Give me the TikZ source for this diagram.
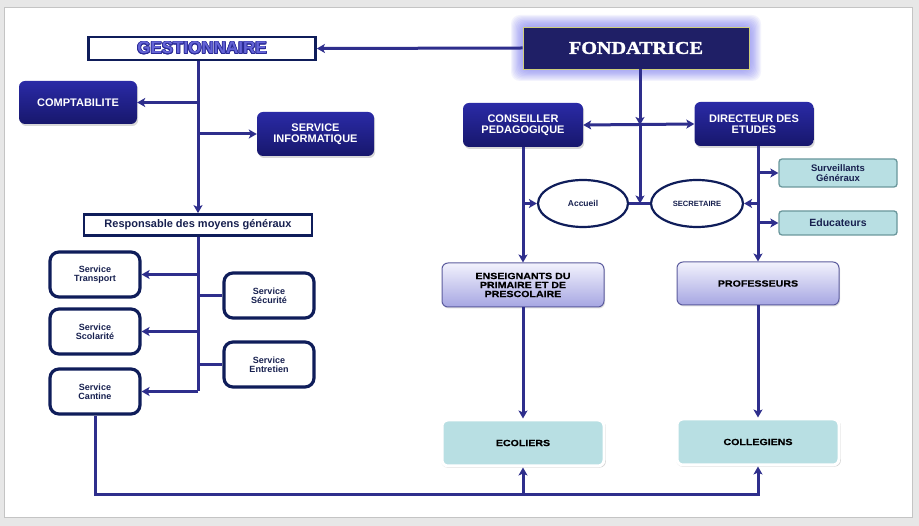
\documentclass[tikz,border=0pt]{standalone}
\usepackage{fontspec}
\setmainfont{Liberation Sans}
\newfontfamily\fondfont[FakeStretch=1.12,FakeBold=1.6]{Liberation Serif}
\newfontfamily\widefont[FakeStretch=1.18,FakeBold=0.5]{Liberation Sans}
\usepackage{contour}
\contourlength{0.7pt}
\usetikzlibrary{arrows.meta,shadows,shapes.geometric}
\definecolor{bggray}{HTML}{E7E7E7}
\definecolor{panelline}{HTML}{C4C4C4}
\definecolor{ln}{HTML}{2E2E8C}
\definecolor{navyT}{HTML}{2A2AA6}
\definecolor{navyB}{HTML}{17176C}
\definecolor{bordnavy}{HTML}{0F1D5A}
\definecolor{txtnavy}{HTML}{17204F}
\definecolor{fondfill}{HTML}{1F1F66}
\definecolor{fondedge}{HTML}{CFCF7A}
\definecolor{glowc}{HTML}{7A7AF0}
\definecolor{gestfill}{HTML}{6464D6}
\definecolor{gestedge}{HTML}{2A2A96}
\definecolor{lavT}{HTML}{F2F2FD}
\definecolor{lavB}{HTML}{A6A6E2}
\definecolor{lavedge}{HTML}{5C5C9E}
\definecolor{teal}{HTML}{B8DFE3}
\definecolor{tealedge}{HTML}{6A979C}
\tikzset{
  >={Stealth[length=8pt,width=9pt,inset=2pt]},
  conn/.style={draw=ln, line width=3pt},
  navybox/.style={rounded corners=6pt, top color=navyT, bottom color=navyB,
    text=white, font=\bfseries\fontsize{11}{11}\selectfont, align=center, inner sep=0pt,
    drop shadow={shadow xshift=1.2pt, shadow yshift=-2pt, opacity=.3}},
  whitebox/.style={draw=bordnavy, line width=2.8pt, fill=white, inner sep=0pt},
  servbox/.style={draw=bordnavy, line width=3.2pt, fill=white, rounded corners=9pt,
    minimum width=90pt, minimum height=45pt, inner sep=0pt, align=center,
    text=txtnavy, font=\bfseries\fontsize{9}{9}\selectfont},
  ovalbox/.style={ellipse, draw=bordnavy, line width=2.2pt, fill=white, inner sep=0pt,
    text=txtnavy},
  smallteal/.style={draw=tealedge, line width=1.3pt, fill=teal, rounded corners=3pt,
    minimum width=118pt, inner sep=0pt, align=center, text=txtnavy},
  lavbox/.style={draw=lavedge, line width=1pt, top color=lavT, bottom color=lavB,
    rounded corners=6pt, minimum width=162pt, inner sep=0pt, align=center,
    font=\widefont\bfseries\fontsize{9}{9}\selectfont,
    drop shadow={shadow xshift=1pt, shadow yshift=-1.5pt, opacity=.25}},
  tealbox/.style={draw=white, line width=3pt, fill=teal, rounded corners=6pt,
    minimum height=46pt, inner sep=0pt, align=center,
    font=\widefont\bfseries\fontsize{9}{9}\selectfont,
    drop shadow={shadow scale=1.015, shadow xshift=0.6pt, shadow yshift=-1.2pt, opacity=.35}}
}
\begin{document}
\begin{tikzpicture}[x=1pt,y=-1pt]
\useasboundingbox (0,0) rectangle (919,526);
\fill[bggray] (0,0) rectangle (919,526);
\draw[panelline, fill=white, line width=0.8pt] (4,7) rectangle (912,517);

% glow behind FONDATRICE
\foreach \g in {1,...,10}
  \fill[glowc, opacity=0.09, rounded corners=9pt] (523-\g*1.2,27-\g*1.2) rectangle (749+\g*1.2,69+\g*1.2);

% nodes
\node[draw=fondedge, line width=0.8pt, fill=fondfill, minimum width=226pt, minimum height=42pt,
  inner sep=0pt, text=white, font=\fondfont\bfseries\fontsize{18}{18}\selectfont]
  (fond) at (636,48) {FONDATRICE};
\node[whitebox, minimum width=227pt, minimum height=23pt, text=gestfill,
  font=\bfseries\fontsize{17}{17}\selectfont] (gest) at (202,48.5) {\contour{gestedge}{GESTIONNAIRE}};
\node[navybox, minimum width=118pt, minimum height=43pt] (comp) at (78,102.5) {COMPTABILITE};
\node[navybox, minimum width=117pt, minimum height=44pt] (info) at (315.5,134) {SERVICE\\INFORMATIQUE};
\node[whitebox, minimum width=228pt, minimum height=21pt, text=txtnavy,
  font=\bfseries\fontsize{11}{11}\selectfont] (resp) at (198,225) {Responsable des moyens généraux};

\node[servbox] (trans) at (95,274.5) {Service\\Transport};
\node[servbox] (scol) at (95,331.5) {Service\\Scolarité};
\node[servbox] (cant) at (95,391.5) {Service\\Cantine};
\node[servbox] (secu) at (269,295.5) {Service\\Sécurité};
\node[servbox] (entr) at (269,364.5) {Service\\Entretien};

\node[navybox, minimum width=120pt, minimum height=44pt] (cons) at (523,125) {CONSEILLER\\PEDAGOGIQUE};
\node[navybox, minimum width=119pt, minimum height=44pt] (dir) at (754,124) {DIRECTEUR DES\\ETUDES};

\node[ovalbox, minimum width=90pt, minimum height=47pt, font=\bfseries\fontsize{8.5}{8.5}\selectfont] (acc) at (583,203.5) {Accueil};
\node[ovalbox, minimum width=92pt, minimum height=47pt, font=\bfseries\fontsize{7.6}{7.6}\selectfont] (sec) at (697,203.5) {SECRETAIRE};

\node[smallteal, minimum height=28pt, font=\bfseries\fontsize{9.5}{9.5}\selectfont] (surv) at (838,173) {Surveillants\\Généraux};
\node[smallteal, minimum height=24pt, font=\bfseries\fontsize{10.5}{10.5}\selectfont] (educ) at (838,223) {Educateurs};

\node[lavbox, minimum height=44pt] (ens) at (523,285) {ENSEIGNANTS DU\\PRIMAIRE ET DE\\PRESCOLAIRE};
\node[lavbox, minimum height=43pt] (prof) at (758,283.5) {PROFESSEURS};

\node[tealbox, minimum width=162pt] (ecol) at (523,443) {ECOLIERS};
\node[tealbox, minimum width=162pt] (coll) at (758,442) {COLLEGIENS};

% coordinates
\coordinate (ctr) at (640,203.5);
\coordinate (bl) at (95,495);

% connectors: left side
\draw[conn,->] (fond.west) -- (gest.east);
\draw[conn,->] (gest.south -| resp.north) -- (resp.north);
\draw[conn,->] (resp.north |- comp.east) -- (comp.east);
\draw[conn,->] (resp.north |- info.west) -- (info.west);
\draw[conn] (resp.south) -- (resp.south |- cant.east);
\draw[conn,->] (resp.south |- trans.east) -- (trans.east);
\draw[conn,->] (resp.south |- scol.east) -- (scol.east);
\draw[conn,->] (resp.south |- cant.east) -- (cant.east);
\draw[conn] (resp.south |- secu.west) -- (secu.west);
\draw[conn] (resp.south |- entr.west) -- (entr.west);
\draw[conn,->] (cant.south) -- (bl) -| (coll.south);
\draw[conn,->] (ecol.south |- bl) -- (ecol.south);

% connectors: right side
\draw[conn,->] (fond.south -| ctr) -- (ctr |- cons.east);
\draw[conn,->] (ctr |- cons.east) -- (ctr);
\draw[conn] (acc.east) -- (sec.west);
\draw[conn,<->] (cons.east) -- (dir.west);
\draw[conn,->] (cons.south) -- (ens.north);
\draw[conn,->] (cons.south |- acc.west) -- (acc.west);
\draw[conn,->] (dir.south -| prof.north) -- (prof.north);
\draw[conn,->] (prof.north |- surv.west) -- (surv.west);
\draw[conn,->] (prof.north |- sec.east) -- (sec.east);
\draw[conn,->] (prof.north |- educ.west) -- (educ.west);
\draw[conn,->] (ens.south) -- (ecol.north);
\draw[conn,->] (prof.south) -- (coll.north);
\end{tikzpicture}
\end{document}
